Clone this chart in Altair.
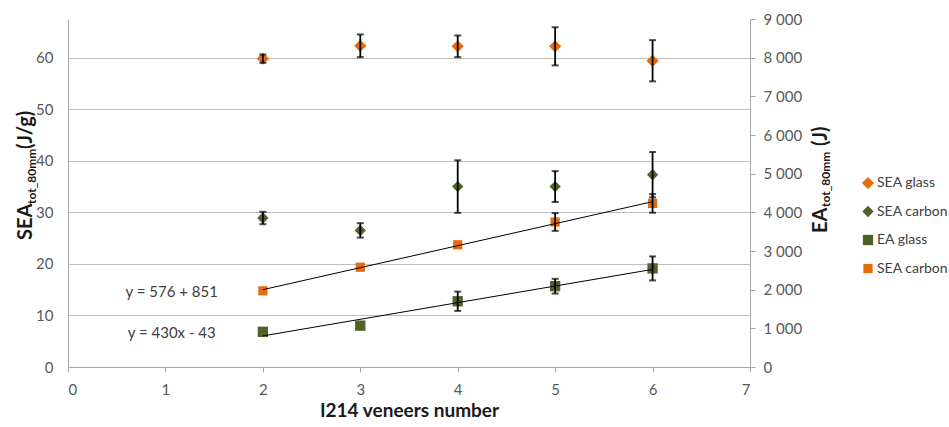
import altair as alt
import pandas as pd

# ---- data ----
x_vals = [2, 3, 4, 5, 6]
series_names = ["SEA glass", "SEA carbon", "EA glass", "SEA carbon "]
series_colors = ["#E46C0A", "#4F6228", "#4F6228", "#E46C0A"]
series_shapes = ["diamond", "diamond", "square", "square"]
series_sizes = [150, 85, 125, 125]
series_axis = ["left", "left", "right", "right"]

sea_glass = [59.8, 62.3, 62.2, 62.2, 59.4]
sea_glass_err = [0.8, 2.2, 2.1, 3.7, 4.0]
sea_carbon = [28.9, 26.5, 35.0, 35.0, 37.3]
sea_carbon_err = [1.2, 1.4, 5.1, 3.0, 4.4]
ea_glass = [910, 1070, 1700, 2090, 2550]
ea_glass_err = [0, 0, 250, 190, 310]
sea_carbon_ea = [1970, 2580, 3160, 3750, 4230]
sea_carbon_ea_err = [0, 0, 0, 230, 240]

left_ticks = [0, 10, 20, 30, 40, 50, 60]
right_ticks = [0, 1000, 2000, 3000, 4000, 5000, 6000, 7000, 8000, 9000]
x_ticks = [0, 1, 2, 3, 4, 5, 6, 7]

eq_labels = ["y = 576 + 851", "y = 430x - 43"]

# ---- build table ----
vals = [sea_glass, sea_carbon, ea_glass, sea_carbon_ea]
errs = [sea_glass_err, sea_carbon_err, ea_glass_err, sea_carbon_ea_err]
rows = []
for name, ax, v, e in zip(series_names, series_axis, vals, errs):
    for xv, yv, ev in zip(x_vals, v, e):
        rows.append({"x": xv, "series": name, "axis": ax, "value": yv,
                     "err": ev, "lo": yv - ev, "hi": yv + ev})
df = pd.DataFrame(rows)
left_df = df[df["axis"] == "left"]
right_df = df[df["axis"] == "right"]

ann_df = pd.DataFrame({"label": eq_labels, "ax": [1.065, 1.065], "ay": [1941, 872]})

FONT = "Lato"
LBL = "#595959"
W, H = 682, 348

x_scale = alt.Scale(domain=[0, 7], nice=False)
x_axis = alt.Axis(values=x_ticks, title="I214 veneers number", format="d",
                  grid=False, ticks=True, tickSize=5, tickColor="#A6A6A6",
                  domainColor="#A6A6A6", labelPadding=10, titlePadding=4,
                  titleFontSize=19, titleFontWeight="bold", titleColor="#1a1a1a")


def X(field="x:Q"):
    return alt.X(field, scale=x_scale, axis=x_axis, title="I214 veneers number")


LEG = dict(orient="none", legendX=793, legendY=157)
color_enc = alt.Color("series:N", scale=alt.Scale(domain=series_names, range=series_colors),
                      title=None, legend=alt.Legend(**LEG))
shape_enc = alt.Shape("series:N", scale=alt.Scale(domain=series_names, range=series_shapes),
                      title=None, legend=alt.Legend(**LEG))
size_enc = alt.Size("series:N", scale=alt.Scale(domain=series_names, range=series_sizes),
                    legend=None)

# ---- left axis group ----
yL_scale = alt.Scale(domain=[0, 67.5], nice=False)
yL_axis = alt.Axis(orient="left", values=left_ticks, grid=True, gridColor="#BDBDBD",
                   ticks=False, domainColor="#A6A6A6", labelPadding=15, title=None)


def YL(field):
    return alt.Y(field, scale=yL_scale, axis=yL_axis, title=None)


left_pts = alt.Chart(left_df).mark_point(filled=True, opacity=1).encode(
    x=X(), y=YL("value:Q"), color=color_enc, shape=shape_enc, size=size_enc)
left_err = alt.Chart(left_df).transform_filter("datum.err > 0")
left_rule = left_err.mark_rule(color="black", strokeWidth=1.8).encode(
    x=X(), y=YL("lo:Q"), y2="hi:Q")
left_tlo = left_err.mark_tick(orient="horizontal", color="black", thickness=2, size=7).encode(
    x=X(), y=YL("lo:Q"))
left_thi = left_err.mark_tick(orient="horizontal", color="black", thickness=2, size=7).encode(
    x=X(), y=YL("hi:Q"))
left = alt.layer(left_pts, left_rule, left_tlo, left_thi)

# ---- right axis group ----
yR_scale = alt.Scale(domain=[0, 9000], nice=False)
yR_axis = alt.Axis(orient="right", values=right_ticks, grid=False, ticks=True, tickSize=5,
                   tickColor="#A6A6A6", domainColor="#A6A6A6", labelPadding=8, title=None,
                   labelExpr="replace(format(datum.value, ',d'), ',', ' ')")


def YR(field):
    return alt.Y(field, scale=yR_scale, axis=yR_axis, title=None)


right_pts = alt.Chart(right_df).mark_point(filled=True, opacity=1).encode(
    x=X(), y=YR("value:Q"), color=color_enc, shape=shape_enc, size=size_enc)
trend = alt.Chart(right_df).transform_regression(
    "x", "value", groupby=["series"], extent=[2, 6]).mark_line(
    color="black", strokeWidth=1).encode(x=X(), y=YR("value:Q"), detail="series:N")
right_err = alt.Chart(right_df).transform_filter("datum.err > 0")
right_rule = right_err.mark_rule(color="black", strokeWidth=1.8).encode(
    x=X(), y=YR("lo:Q"), y2="hi:Q")
right_tlo = right_err.mark_tick(orient="horizontal", color="black", thickness=2, size=7).encode(
    x=X(), y=YR("lo:Q"))
right_thi = right_err.mark_tick(orient="horizontal", color="black", thickness=2, size=7).encode(
    x=X(), y=YR("hi:Q"))
ann = alt.Chart(ann_df).mark_text(font=FONT, fontSize=15, color="#404040").encode(
    x=X("ax:Q"), y=YR("ay:Q"), text="label:N")
right = alt.layer(right_pts, trend, right_rule, right_tlo, right_thi, ann)

# ---- axis titles with subscripts ----
title_df = pd.DataFrame({
    "t": ["SEA", "tot_80mm", "(J/g)", "EA", "tot_80mm", "(J)"],
    "px": [-36, -32, -36, 759, 762, 759],
    "py": [221, 185, 130, 214, 188, 127],
    "fs": [20, 12, 20, 20, 12, 20],
})
titles = alt.Chart(title_df).mark_text(
    font=FONT, fontWeight="bold", angle=270, align="left", baseline="alphabetic",
    color="#1a1a1a").encode(
    x=alt.X("px:Q", scale=None), y=alt.Y("py:Q", scale=None), text="t:N",
    size=alt.Size("fs:Q", scale=None, legend=None))

chart = alt.layer(left, right, titles).resolve_scale(y="independent").properties(
    width=W, height=H,
    autosize=alt.AutoSizeParams(type="none"),
    padding={"left": 68, "top": 19, "right": 199, "bottom": 60},
).configure_view(stroke=None).configure_axis(
    labelFont=FONT, labelFontSize=15, labelColor=LBL, titleFont=FONT
).configure_legend(
    labelFont=FONT, labelFontSize=14, labelColor="#404040", symbolSize=100,
    symbolStrokeWidth=0, rowPadding=14.5, padding=0, labelOffset=2
)

chart.save("out.html", embed_options={"renderer": "svg", "actions": False})
